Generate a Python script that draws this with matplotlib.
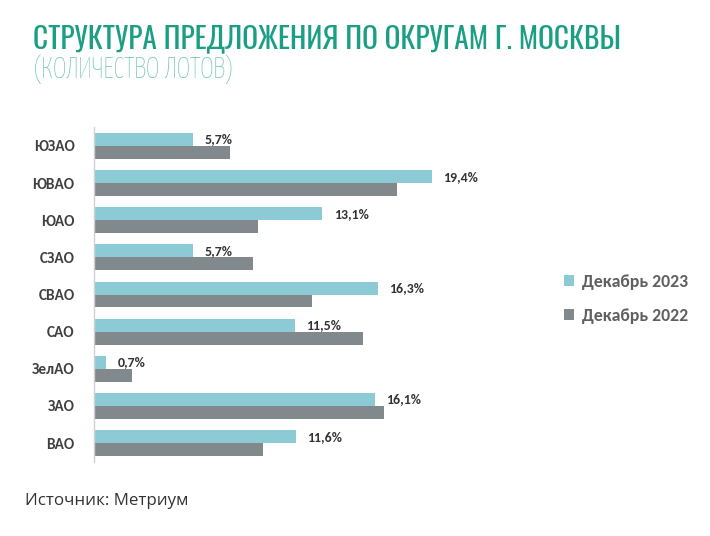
import matplotlib
matplotlib.use("Agg")
import matplotlib.pyplot as plt
import numpy as np

categories = ["ЮЗАО", "ЮВАО", "ЮАО", "СЗАО", "СВАО", "САО", "ЗелАО", "ЗАО", "ВАО"]
dec2023 = [5.7, 19.4, 13.1, 5.7, 16.3, 11.5, 0.7, 16.1, 11.6]
dec2022 = [7.8, 17.4, 9.4, 9.1, 12.5, 15.4, 2.2, 16.6, 9.7]
series_names = ["Декабрь 2023", "Декабрь 2022"]
value_labels = ["5,7%", "19,4%", "13,1%", "5,7%", "16,3%", "11,5%", "0,7%", "16,1%", "11,6%"]

c23 = "#8ccad5"
c22 = "#82898d"
lab_font = ["Carlito", "Liberation Sans", "DejaVu Sans"]

fig = plt.figure(figsize=(7.1, 5.36), dpi=100)
ax = fig.add_axes([94/710, 1-462/536, (540-94)/710, (462-127)/536])

y = np.arange(len(categories))
h = 0.35
ax.barh(y - h/2, dec2023, height=h, color=c23, label=series_names[0])
ax.barh(y + h/2, dec2022, height=h, color=c22, label=series_names[1])

for yi, v, lab in zip(y, dec2023, value_labels):
    ax.annotate(lab, (v, yi - h/2), xytext=(8, 0), textcoords="offset points",
                va="center", ha="left", fontsize=10, color="#333333",
                family=lab_font, fontweight="bold")

ax.set_xlim(0, (540-94)/17.44)
ax.set_ylim(8.51, -0.51)
ax.set_yticks(y)
ax.set_yticklabels(categories, fontsize=11, color="#404040", family=lab_font, fontweight="bold")
ax.tick_params(axis="y", length=0, pad=14)
ax.set_xticks([])
for s in ["top", "right", "bottom"]:
    ax.spines[s].set_visible(False)
ax.spines["left"].set_color("#d0d0d0")
ax.spines["left"].set_linewidth(1)

leg = fig.legend(handles=ax.containers, labels=series_names, loc="upper left",
                 bbox_to_anchor=(548/710, 1-258/536), frameon=False,
                 handlelength=0.55, handleheight=0.55, handletextpad=0.45,
                 labelspacing=1.0, prop={"family": lab_font, "size": 12.8, "weight": "bold"})
for t in leg.get_texts():
    t.set_color("#606060")

fig.text(33/710, 1-48/536, "СТРУКТУРА ПРЕДЛОЖЕНИЯ ПО ОКРУГАМ Г. МОСКВЫ",
         fontsize=21.2, color="#1a9e84", family=["Oswald", "DejaVu Sans"], fontweight=500,
         ha="left", va="baseline")
fig.text(33/710, 1-78/536, "(КОЛИЧЕСТВО ЛОТОВ)",
         fontsize=20.5, color="#6cc4b4", family=["Yanone Kaffeesatz", "Oswald", "DejaVu Sans"], fontweight=200,
         ha="left", va="baseline")
fig.text(25/710, 1-505/536, "Источник: Метриум", fontsize=12.2, color="#333333",
         family=["Open Sans", "DejaVu Sans"], ha="left", va="baseline")

fig.savefig("out.png", dpi=100)
